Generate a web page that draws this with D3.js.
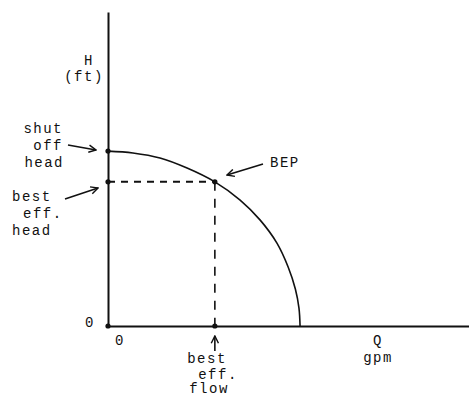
<!DOCTYPE html>
<html>
<head>
<meta charset="utf-8">
<script src="https://cdn.jsdelivr.net/npm/d3@7"></script>
<style>
  body { margin: 0; background: #fff; }
  svg text { font-family: 'Liberation Mono', 'DejaVu Sans Mono', monospace; font-size: 14px; letter-spacing: 1.5px; fill: #111; }
</style>
</head>
<body>
<script>
// pump curve: flow Q vs head H
var curveQ = [0, 6.9, 14.4, 21.9, 29.6, 36.6, 42.1, 46.8, 49.9, 51.9, 52.9, 53.2];
var curveH = [55.7, 55.1, 53.5, 50.3, 45.9, 40.1, 33.8, 26.4, 18.8, 11.8, 5.7, 0];

var bepQ = 29.6;
var bepH = 45.9;
var shutoffH = 55.7;

var width = 469;
var height = 396;

var svg = d3.select('body').append('svg')
  .attr('width', width)
  .attr('height', height);

var x = d3.scaleLinear().domain([0, 100]).range([108, 469]);
var y = d3.scaleLinear().domain([0, 100]).range([326, 12]);

// arrow marker (open V)
svg.append('defs').append('marker')
  .attr('id', 'arrow')
  .attr('viewBox', '0 0 10 10')
  .attr('refX', 9)
  .attr('refY', 5)
  .attr('markerWidth', 9)
  .attr('markerHeight', 9)
  .attr('markerUnits', 'userSpaceOnUse')
  .attr('orient', 'auto')
  .append('path')
  .attr('d', 'M1,1 L9,5 L1,9')
  .attr('fill', 'none')
  .attr('stroke', '#111')
  .attr('stroke-width', 1.6);

// axes
var xAxis = d3.axisBottom(x).tickValues([]).tickSizeOuter(0);
var yAxis = d3.axisLeft(y).tickValues([]).tickSizeOuter(0);
svg.append('g').attr('transform', 'translate(0,' + y(0) + ')').call(xAxis)
  .select('.domain').attr('stroke', '#111').attr('stroke-width', 2);
svg.append('g').attr('transform', 'translate(' + x(0) + ',0)').call(yAxis)
  .select('.domain').attr('stroke', '#111').attr('stroke-width', 2);

// dashed guides to best efficiency point
svg.append('line')
  .attr('x1', x(0)).attr('y1', y(bepH))
  .attr('x2', x(bepQ)).attr('y2', y(bepH))
  .attr('stroke', '#111').attr('stroke-width', 2)
  .attr('stroke-dasharray', '7,6');
svg.append('line')
  .attr('x1', x(bepQ)).attr('y1', y(bepH))
  .attr('x2', x(bepQ)).attr('y2', y(0))
  .attr('stroke', '#111').attr('stroke-width', 1.6)
  .attr('stroke-dasharray', '9,8');

// curve
var pts = curveQ.map(function(q, i) { return [q, curveH[i]]; });
var line = d3.line()
  .x(function(d) { return x(d[0]); })
  .y(function(d) { return y(d[1]); })
  .curve(d3.curveCatmullRom);
svg.append('path')
  .datum(pts)
  .attr('d', line)
  .attr('fill', 'none')
  .attr('stroke', '#111')
  .attr('stroke-width', 1.6);

// dots
var dots = [[0, shutoffH], [0, bepH], [bepQ, bepH], [bepQ, 0], [0, 0]];
svg.selectAll('circle.dot')
  .data(dots)
  .enter()
  .append('circle')
  .attr('class', 'dot')
  .attr('cx', function(d) { return x(d[0]); })
  .attr('cy', function(d) { return y(d[1]); })
  .attr('r', 2.6)
  .attr('fill', '#111');

// labels
function label(tx, ty, str, anchor) {
  svg.append('text')
    .attr('x', tx)
    .attr('y', ty)
    .style('text-anchor', anchor || 'start')
    .text(str);
}

label(89, 65, 'H', 'middle');
label(84, 81, '(ft)', 'middle');

label(63, 133, 'shut', 'end');
label(63, 150, 'off', 'end');
label(64, 167, 'head', 'end');

label(12, 201, 'best');
label(23, 218, 'eff.');
label(12, 235, 'head');

label(90, 327, '0', 'middle');
label(120, 345, '0', 'middle');

label(270, 167, 'BEP');

label(378, 345, 'Q', 'middle');
label(378, 362, 'gpm', 'middle');

label(207, 363, 'best', 'middle');
label(218, 379, 'eff.', 'middle');
label(209, 393, 'flow', 'middle');

// arrows
function arrow(x1, y1, x2, y2) {
  svg.append('line')
    .attr('x1', x1).attr('y1', y1)
    .attr('x2', x2).attr('y2', y2)
    .attr('stroke', '#111')
    .attr('stroke-width', 1.6)
    .attr('marker-end', 'url(#arrow)');
}

arrow(68, 145, 96, 150);
arrow(65, 199, 98, 188);
arrow(263, 164, 227, 175);
arrow(x(bepQ), 351, x(bepQ), 336);
</script>
</body>
</html>
